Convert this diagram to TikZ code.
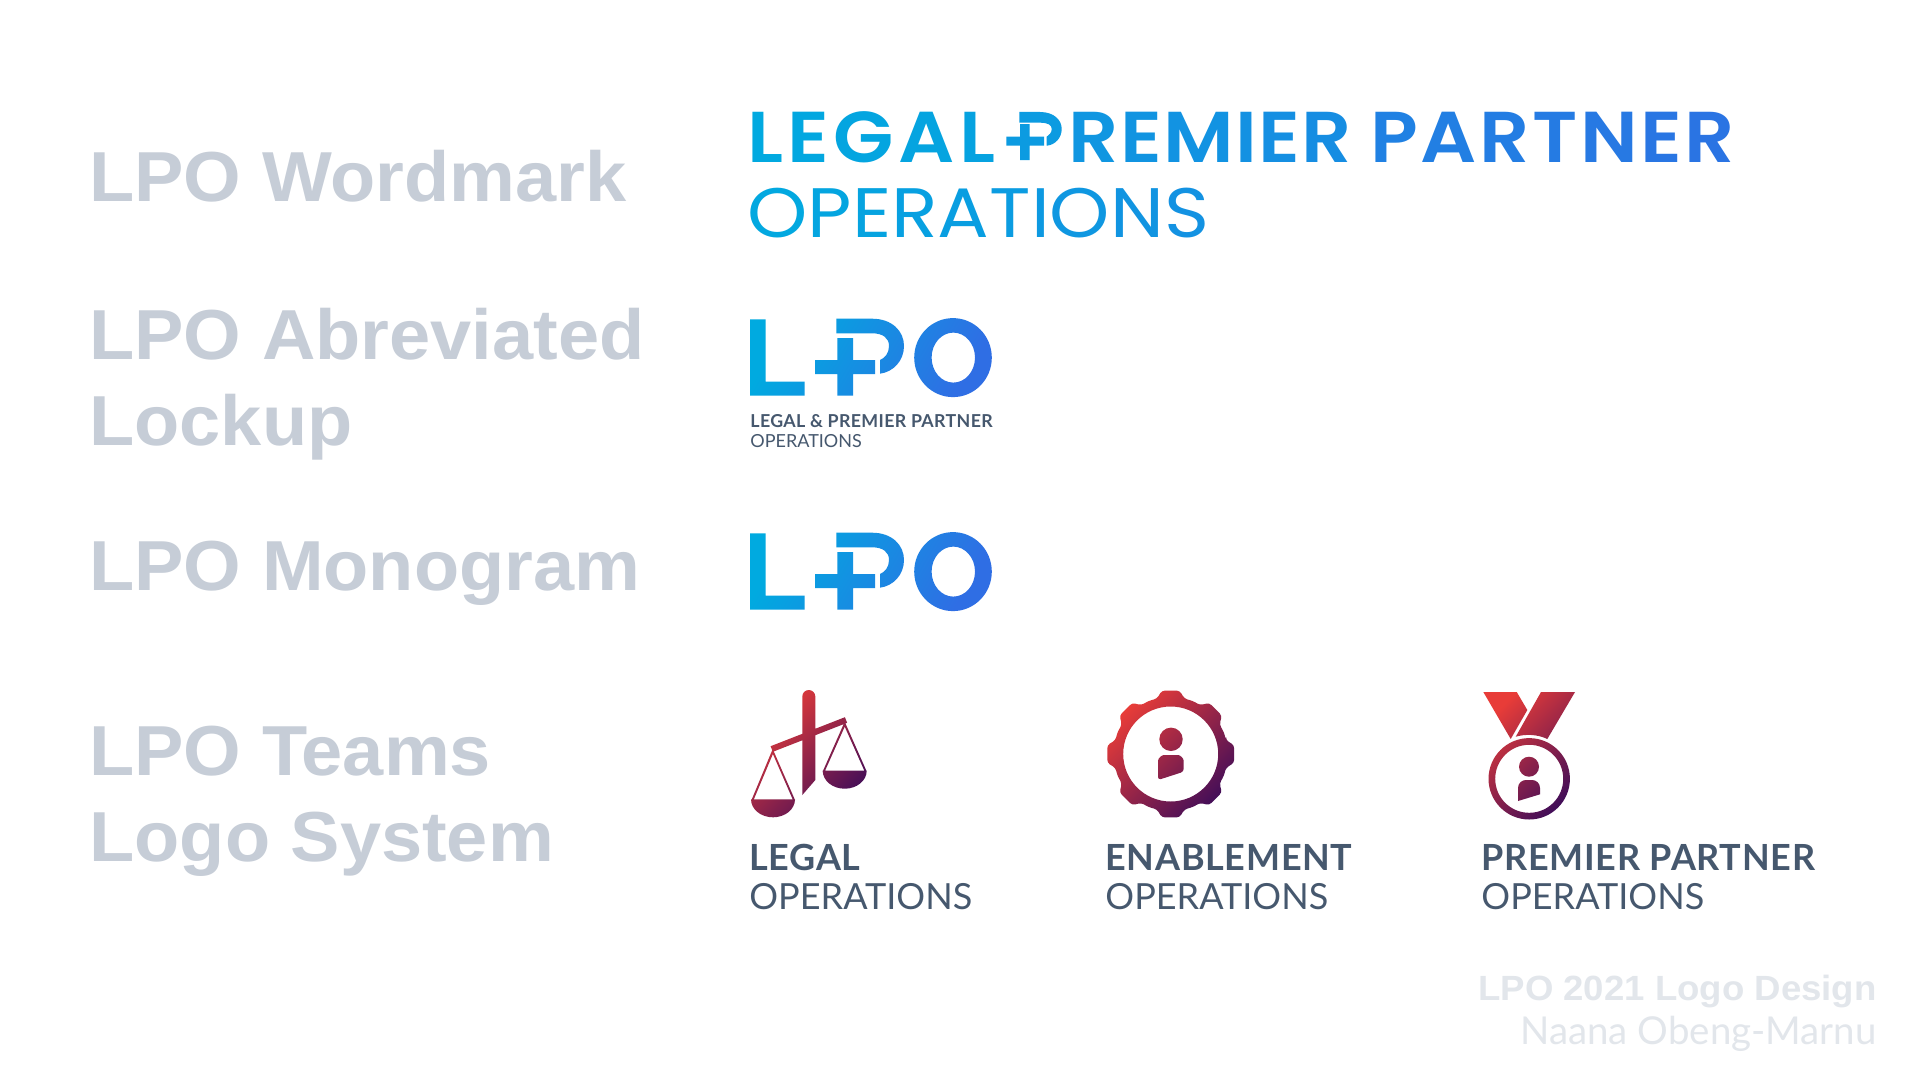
\documentclass[tikz,border=0pt]{standalone}
\usepackage{fontspec}
\usepackage{xcolor}
\usetikzlibrary{positioning}
\newfontfamily\labelfont{Liberation Sans}[FakeStretch=1.045]
\newfontfamily\teamfont{Lato}[LetterSpace=2]
\newfontfamily\subfont{Lato}
\newfontfamily\markfont{Poppins SemiBold}[FakeStretch=1.09]
\newfontfamily\thinfont{Poppins}[FakeStretch=1.095]
\definecolor{lpocyan}{RGB}{0, 170, 224}
\definecolor{lpoblue}{RGB}{47, 110, 228}
\definecolor{teamred}{RGB}{232, 60, 56}
\definecolor{teampurple}{RGB}{68, 14, 88}
\definecolor{slate}{RGB}{70, 88, 110}
\definecolor{labelgrey}{RGB}{198, 205, 215}
\definecolor{footgrey}{RGB}{226, 230, 235}
\tikzstyle{rowlabel} = [anchor=base west, inner sep=0pt, text=labelgrey, font=\labelfont\bfseries\fontsize{35.4}{36}\selectfont]
\tikzstyle{wordbig} = [anchor=base west, inner sep=0pt, font=\markfont\fontsize{36}{36}\selectfont]
\tikzstyle{wordthin} = [anchor=base west, inner sep=0pt, font=\thinfont\fontsize{35}{35}\selectfont]
\tikzstyle{teamtop} = [anchor=base west, inner sep=0pt, text=slate, font=\teamfont\bfseries\fontsize{18}{18}\selectfont]
\tikzstyle{teamsub} = [anchor=base west, inner sep=0pt, text=slate, font=\subfont\fontsize{18}{18}\selectfont]
\tikzstyle{smalltop} = [anchor=base west, inner sep=0pt, text=slate, font=\teamfont\bfseries\fontsize{8.9}{9}\selectfont]
\tikzstyle{smallsub} = [anchor=base west, inner sep=0pt, text=slate, font=\subfont\fontsize{9}{9}\selectfont]
\tikzstyle{foot} = [anchor=base east, inner sep=0pt, text=footgrey, font=\subfont\fontsize{19.2}{18}\selectfont]
\tikzstyle{bluegrad} = [left color=lpocyan, right color=lpoblue, shading angle=60]
\tikzstyle{teamgrad} = [left color=teamred, right color=teampurple, shading angle=45]
\newcommand{\gradword}[4]{\foreach \ch [count=\nch] in {#1}{\pgfmathsetmacro{\pct}{#2+(#3-#2)*\nch/10}\textcolor{lpoblue!\pct!lpocyan}{\ch}\kern#4pt}}
\newcommand{\lpomonogram}{%
  \shade[bluegrad] (750,319.3) -- (765.7,319.3) -- (765.7,381.7) -- (804.7,381.7) -- (804.7,395.7) -- (750,395.7) -- cycle
  (815,360) -- (837.3,360) -- (837.3,338) -- (853,338) -- (853,360) -- (875,360) -- (875,374) -- (853,374) -- (853,395.7) -- (837.3,395.7) -- (837.3,374) -- (815,374) -- cycle
  (836.3,318.7) -- (872,318.7) .. controls (892,318.7) and (904,331) .. (904,346) .. controls (904,361) and (893,372) .. (880,373.7) -- (880,360) .. controls (885,358) and (889,353) .. (889,346) .. controls (889,338) and (883,333.3) .. (872,333.3) -- (836.3,333.3) -- cycle
  (991.8,357.6) arc[start angle=0, end angle=360, x radius=38.8, y radius=39.5]
  (975,357.6) arc[start angle=360, end angle=0, x radius=21.7, y radius=25];}
\begin{document}
\begin{tikzpicture}[x=.5pt, y=-.5pt]
\useasboundingbox[fill=white] (0,0) rectangle (1920,1081);

% row labels =============================
\node[rowlabel] (wordmark) at (89,201) {LPO Wordmark};
\node[rowlabel, below=79pt of wordmark.base west, anchor=base west] (abbrev) {LPO Abreviated};
\node[rowlabel, below=43pt of abbrev.base west, anchor=base west] (lockup) {Lockup};
\node[rowlabel, below=72.5pt of lockup.base west, anchor=base west] (monogram) {LPO Monogram};
\node[rowlabel, below=92.5pt of monogram.base west, anchor=base west] (teams) {LPO Teams};
\node[rowlabel, below=43pt of teams.base west, anchor=base west] (system) {Logo System};

% wordmark
\node[wordbig] (legal) at (747,162.5) {\gradword{L,E,G,A,L}{0}{25}{2.2}};
\node[wordbig] (premier) at (1068,162.5) {\gradword{R,E,M,I,E,R}{30}{60}{0.7}};
\node[wordbig] (partner) at (1370,162.5) {\gradword{P,A,R,T,N,E,R}{65}{100}{1.3}};
\node[wordthin] (operations) at (747,237) {\gradword{O,P,E,R,A,T,I,O,N,S}{0}{40}{0}};
\fill[lpoblue!25!lpocyan] (1019.3,112) -- (1040,112) .. controls (1054,112) and (1061.7,120) .. (1061.7,129) .. controls (1061.7,138) and (1055,145) .. (1046.7,145.7) -- (1046.7,136.7) .. controls (1049,135) and (1051.7,133) .. (1051.7,129) .. controls (1051.7,125) and (1048,122.7) .. (1040,122.7) -- (1019.3,122.7) -- cycle
  (1006.3,136.7) -- (1020,136.7) -- (1020,124) -- (1029.7,124) -- (1029.7,136.7) -- (1044,136.7) -- (1044,145.7) -- (1029.7,145.7) -- (1029.7,160) -- (1020,160) -- (1020,145.7) -- (1006.3,145.7) -- cycle;

% abbreviated lockup and monogram
\lpomonogram
\node[smalltop] (lockuptop) at (750,427) {LEGAL \& PREMIER PARTNER};
\node[smallsub, below=10.2pt of lockuptop.base west, anchor=base west] (lockupsub) {OPERATIONS};
\begin{scope}[shift={(0,214)}]
\lpomonogram
\end{scope}

% legal scales
\shade[teamgrad] (802.3,795) -- (802.3,696.5) arc[start angle=180, end angle=360, radius=6.5] -- (815.3,780) -- cycle
  (770.6,746.2) -- (844.9,717.2) -- (847.1,722.8) -- (772.8,751.8) -- cycle
  (772.7,749) -- (795,800) -- (751.5,800) -- cycle
  (772.9,754) -- (753.8,799.4) -- (792.7,799.4) -- cycle
  (844.7,721.7) -- (866.7,771.5) -- (822.7,771.5) -- cycle
  (844.7,726.7) -- (825,770.8) -- (864.4,770.8) -- cycle
  (751,799.3) -- (795,799.3) arc[start angle=0, end angle=180, x radius=22, y radius=18] -- cycle
  (822.7,770.7) -- (866.7,770.7) arc[start angle=0, end angle=180, x radius=22, y radius=18] -- cycle;

% enablement gear
\shade[teamgrad, rounded corners=1.5pt] (1170.7,754) ++(-14:57) -- ++(0,0)
  \foreach \a in {0,45,...,315} { -- ([shift={(1170.7,754)}]\a-14:57) -- ([shift={(1170.7,754)}]\a-8:64) -- ([shift={(1170.7,754)}]\a+8:64) -- ([shift={(1170.7,754)}]\a+14:57) -- ([shift={(1170.7,754)}]\a+22.5:57.5)} -- cycle
  (1218.2,754) arc[start angle=360, end angle=0, radius=47.5]
  (1182.7,739.3) arc[start angle=0, end angle=360, radius=11.7]
  (1158,780) -- (1158,764) .. controls (1158,758) and (1162,755) .. (1167,755) -- (1175,755) .. controls (1180,755) and (1183.7,758) .. (1183.7,764) -- (1183.7,771.7) -- cycle;

% premier partner medal
\shade[teamgrad] (1483.3,692) -- (1516.7,692) -- (1527.3,710) -- (1510.7,739) -- cycle
  (1541,692) -- (1575,692) -- (1547.3,739) .. controls (1537,734) and (1525,734) .. (1515.7,736.7) -- cycle
  (1569.9,778.8) arc[start angle=0, end angle=360, radius=40.7]
  (1563.2,778.8) arc[start angle=360, end angle=0, radius=34]
  (1539,766.7) arc[start angle=0, end angle=360, radius=10]
  (1518,801) -- (1518,788) .. controls (1518,783) and (1522,780) .. (1526,780) -- (1532,780) .. controls (1536,780) and (1540,783) .. (1540,788) -- (1540,794.3) -- cycle;

% team names
\node[teamtop] (legalname) at (749,870) {LEGAL};
\node[teamsub, below=19.8pt of legalname.base west, anchor=base west] (legalsub) {OPERATIONS};
\node[teamtop] (enablename) at (1105,870) {ENABLEMENT};
\node[teamsub, below=19.8pt of enablename.base west, anchor=base west] (enablesub) {OPERATIONS};
\node[teamtop] (premiername) at (1481,870) {PREMIER PARTNER};
\node[teamsub, below=19.8pt of premiername.base west, anchor=base west] (premiersub) {OPERATIONS};

% footer
\node[foot, font=\labelfont\bfseries\fontsize{17.5}{18}\selectfont] (footyear) at (1877,1000) {LPO 2021 Logo Design};
\node[foot, below=22pt of footyear.base east, anchor=base east] (footname) {Naana Obeng-Marnu};

\end{tikzpicture}
\end{document}
